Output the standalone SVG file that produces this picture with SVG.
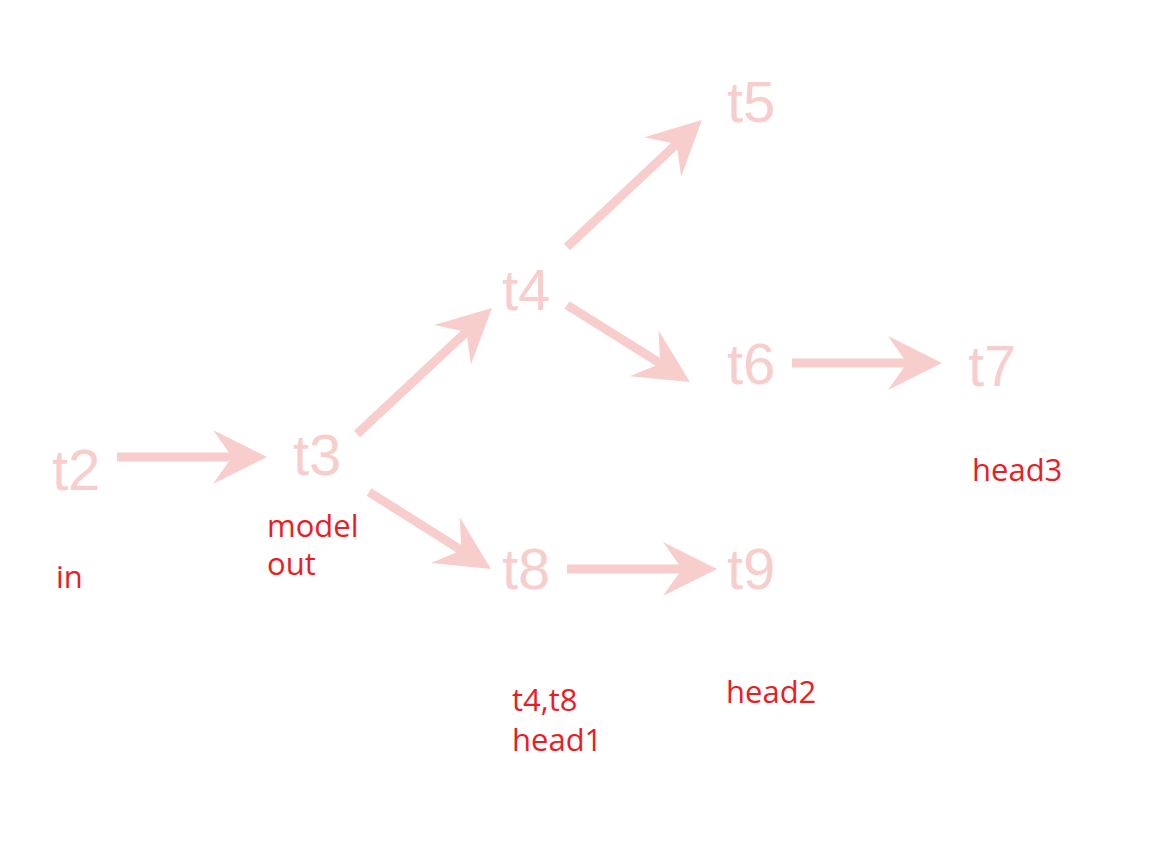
<svg xmlns="http://www.w3.org/2000/svg" width="1153" height="845" viewBox="0 0 1153 845">
<style>
.node{font-family:"Liberation Sans",Arial,sans-serif;font-size:58px;fill:#F8CECC}
.lbl{font-family:"Open Sans","Noto Sans",sans-serif;font-size:31px;fill:#ED1C24}
.edge{stroke:#F8CECC;stroke-width:9;fill:none;marker-end:url(#ah)}
</style>
<defs>
<marker id="ah" markerUnits="userSpaceOnUse" orient="auto" refX="0" refY="0" markerWidth="60" markerHeight="60" overflow="visible">
<path d="M35,0 L-19,-27 L0,0 L-19,27 Z" fill="#F8CECC"/>
</marker>
</defs>
<rect width="1153" height="845" fill="#fff"/>
<g id="connectors">
<path class="edge" d="M117,457 L232,457"/>
<path class="edge" d="M357,434 L466.4,331.9"/>
<path class="edge" d="M369,492 L461.4,550.3"/>
<path class="edge" d="M567,247 L676.5,144"/>
<path class="edge" d="M567,305 L660.3,363.4"/>
<path class="edge" d="M792,363 L907,363"/>
<path class="edge" d="M567,569 L682,569"/>
</g>
<g id="t2"><text class="node" x="52" y="490">t2</text></g>
<g id="t3"><text class="node" x="293" y="475">t3</text></g>
<g id="t4"><text class="node" x="502" y="310">t4</text></g>
<g id="t5"><text class="node" x="727" y="122">t5</text></g>
<g id="t6"><text class="node" x="727" y="384">t6</text></g>
<g id="t7"><text class="node" x="968" y="386">t7</text></g>
<g id="t8"><text class="node" x="502" y="589">t8</text></g>
<g id="t9"><text class="node" x="727" y="589">t9</text></g>
<g id="labels">
<text class="lbl" x="56" y="588">in</text>
<text class="lbl" x="267" y="537">model</text>
<text class="lbl" x="267" y="575">out</text>
<text class="lbl" x="512" y="711">t4,t8</text>
<text class="lbl" x="512" y="751">head1</text>
<text class="lbl" x="726" y="703">head2</text>
<text class="lbl" x="972" y="481">head3</text>
</g>
</svg>
